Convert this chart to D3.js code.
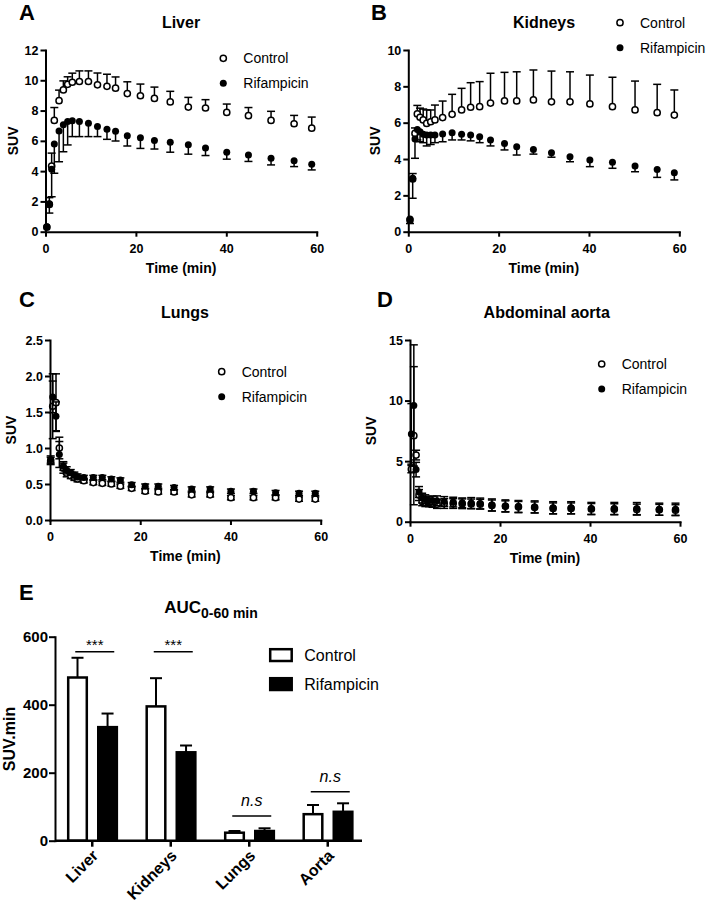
<!DOCTYPE html>
<html><head><meta charset="utf-8">
<script src="https://cdn.jsdelivr.net/npm/d3@7"></script>
<style>
body{margin:0;background:#fff}
svg{display:block}
text{font-family:"Liberation Sans",Arial,Helvetica,sans-serif;fill:#000}
</style>
</head><body>
<svg id="chart" width="709" height="902"></svg>
<script>
// ---------------- DATA ----------------
const seriesNames = ["Control", "Rifampicin"];
const timeTicks = [0, 20, 40, 60];

const liverTimes = [0.3, 0.85, 1.36, 1.95, 3.0, 3.95, 4.9, 5.93, 7.5, 9.5, 11.5, 13.6, 15.5, 18.1, 21.0, 24.1, 27.6, 31.6, 35.4, 40.1, 44.9, 49.9, 55.0, 58.9];
const liverControl = [0.3, 1.8, 4.34, 7.35, 8.65, 9.36, 9.73, 9.87, 9.92, 9.92, 9.7, 9.6, 9.48, 9.12, 8.98, 8.8, 8.57, 8.23, 8.17, 7.88, 7.66, 7.35, 7.13, 6.84];
const liverControlSD = [0, 0.45, 0.85, 0.85, 0.7, 0.6, 0.5, 0.6, 0.7, 0.7, 0.78, 0.8, 0.74, 0.78, 0.77, 0.75, 0.7, 0.64, 0.55, 0.55, 0.54, 0.6, 0.55, 0.73];
const liverRif = [0.33, 1.85, 4.12, 5.8, 6.65, 7.07, 7.28, 7.32, 7.28, 7.16, 6.95, 6.77, 6.64, 6.34, 6.2, 6.03, 5.9, 5.74, 5.52, 5.25, 5.07, 4.85, 4.68, 4.45];
const liverRifSD = [0, 0.62, 1.81, 1.94, 2.03, 1.79, 1.55, 1.04, 1.0, 0.88, 0.67, 0.67, 0.65, 0.68, 0.7, 0.57, 0.65, 0.62, 0.49, 0.46, 0.43, 0.44, 0.38, 0.37];

const kidneyTimes = [0.37, 0.97, 1.48, 2.0, 2.6, 3.3, 4.07, 4.96, 5.9, 7.6, 9.7, 11.8, 13.8, 15.8, 18.2, 21.3, 24.0, 27.7, 31.7, 35.8, 40.2, 45.2, 50.2, 55.1, 58.9];
const kidneyControl = [0.65, 2.9, 5.41, 6.48, 6.3, 6.15, 5.96, 6.05, 6.15, 6.28, 6.46, 6.7, 6.85, 6.88, 7.08, 7.2, 7.2, 7.25, 7.15, 7.15, 7.03, 6.88, 6.7, 6.55, 6.42];
const kidneyControlSD = [0, 0.3, 0.3, 0.47, 0.5, 0.6, 0.74, 0.65, 0.82, 0.91, 1.1, 1.19, 1.35, 1.38, 1.64, 1.57, 1.6, 1.65, 1.69, 1.65, 1.59, 1.62, 1.59, 1.56, 1.38];
const kidneyRif = [0.7, 2.94, 5.1, 5.63, 5.5, 5.36, 5.32, 5.32, 5.32, 5.38, 5.45, 5.36, 5.32, 5.23, 5.05, 4.86, 4.68, 4.53, 4.35, 4.13, 3.95, 3.82, 3.62, 3.43, 3.25];
const kidneyRifSD = [0.25, 1.1, 1.06, 0.58, 0.55, 0.46, 0.6, 0.52, 0.42, 0.43, 0.4, 0.31, 0.32, 0.33, 0.33, 0.36, 0.46, 0.26, 0.25, 0.28, 0.37, 0.33, 0.32, 0.44, 0.4];

const lungTimes = [0.15, 0.6, 1.33, 2.07, 2.96, 3.7, 4.6, 5.4, 6.1, 7.5, 9.6, 11.6, 13.6, 15.6, 18.1, 21.1, 24.0, 27.5, 31.4, 35.5, 40.1, 45.1, 50.0, 55.2, 58.8];
const lungControl = [0.82, 1.58, 1.63, 1.0, 0.72, 0.65, 0.615, 0.59, 0.57, 0.545, 0.52, 0.51, 0.5, 0.47, 0.44, 0.40, 0.39, 0.39, 0.35, 0.35, 0.31, 0.31, 0.31, 0.29, 0.29];
const lungControlSD = [0.05, 0.45, 0.4, 0.15, 0.07, 0.05, 0.04, 0.04, 0.04, 0.03, 0.03, 0.03, 0.03, 0.03, 0.03, 0.03, 0.03, 0.03, 0.03, 0.03, 0.03, 0.03, 0.03, 0.03, 0.03];
const lungRif = [0.84, 1.71, 1.44, 0.91, 0.75, 0.69, 0.66, 0.625, 0.6, 0.59, 0.59, 0.59, 0.57, 0.555, 0.49, 0.47, 0.47, 0.45, 0.43, 0.43, 0.40, 0.40, 0.38, 0.37, 0.37];
const lungRifSD = [0.05, 0.22, 0.2, 0.18, 0.06, 0.05, 0.04, 0.04, 0.04, 0.03, 0.03, 0.03, 0.03, 0.03, 0.03, 0.03, 0.03, 0.03, 0.03, 0.03, 0.03, 0.03, 0.03, 0.03, 0.03];

const aortaTimes = [0.3, 0.85, 1.35, 2.0, 2.7, 3.4, 4.2, 5.0, 6.0, 7.6, 9.6, 11.6, 13.6, 15.6, 18.2, 21.2, 24.1, 27.7, 31.8, 35.8, 40.3, 45.4, 50.4, 55.4, 59.0];
const aortaControl = [4.34, 7.1, 5.5, 2.2, 1.67, 1.6, 1.59, 1.54, 1.45, 1.5, 1.5, 1.48, 1.47, 1.45, 1.34, 1.27, 1.22, 1.18, 1.1, 1.1, 1.05, 1.03, 1.0, 0.98, 0.95];
const aortaControlSD = [0.3, 5.7, 0.4, 0.45, 0.35, 0.35, 0.35, 0.35, 0.35, 0.4, 0.4, 0.4, 0.4, 0.4, 0.45, 0.45, 0.45, 0.45, 0.45, 0.45, 0.45, 0.45, 0.45, 0.45, 0.45];
const aortaRif = [7.25, 9.6, 4.3, 2.45, 1.95, 1.87, 1.76, 1.76, 1.73, 1.67, 1.62, 1.56, 1.54, 1.5, 1.38, 1.3, 1.25, 1.22, 1.15, 1.15, 1.09, 1.09, 1.08, 1.03, 1.03];
const aortaRifSD = [2.5, 5.0, 0.6, 0.45, 0.4, 0.35, 0.35, 0.35, 0.4, 0.4, 0.4, 0.4, 0.45, 0.45, 0.5, 0.5, 0.5, 0.5, 0.5, 0.5, 0.5, 0.5, 0.5, 0.5, 0.5];

const aucCategories = ["Liver", "Kidneys", "Lungs", "Aorta"];
const aucControl = [480, 395, 23.5, 78];
const aucControlSD = [58, 83, 5, 27];
const aucRif = [334, 260, 28.5, 85];
const aucRifSD = [40, 20, 8, 25];
const aucTicks = [0, 200, 400, 600];
const sigLabels = ["***", "***", "n.s", "n.s"];
const sigLevels = [556, 556, 73, 144];

// ---------------- DRAWING ----------------
const svg = d3.select("#chart");
const FONT = '"Liberation Sans",Arial,Helvetica,sans-serif';

function styleAxis(g, fs) {
  g.selectAll("path.domain").attr("stroke", "#000").attr("stroke-width", 2).attr("stroke-linecap", "square");
  g.selectAll(".tick line").attr("stroke", "#000").attr("stroke-width", 2);
  g.selectAll(".tick text").attr("font-family", FONT).attr("font-weight", "bold").attr("font-size", fs).attr("fill", "#000");
}

function timePanel(cfg) {
  const g = svg.append("g");
  const x = d3.scaleLinear().domain([0, 60]).range([cfg.x0, cfg.x1]);
  const y = d3.scaleLinear().domain([0, cfg.ymax]).range([cfg.y0, cfg.y1]);

  // series
  cfg.series.forEach((s, si) => {
    const pts = cfg.times.map((t, i) => ({t: t, v: s.values[i], sd: s.sd[i]}));
    const eg = g.append("g");
    pts.forEach(p => {
      if (!p.sd) return;
      const lo = s.dir === "up" ? p.v : p.v - p.sd;
      const hi = s.dir === "down" ? p.v : p.v + p.sd;
      const cx = x(p.t);
      eg.append("line").attr("x1", cx).attr("x2", cx).attr("y1", y(lo)).attr("y2", y(hi))
        .attr("stroke", "#000").attr("stroke-width", 1.5);
      if (s.dir !== "down") eg.append("line").attr("x1", cx - 4).attr("x2", cx + 4).attr("y1", y(hi)).attr("y2", y(hi)).attr("stroke", "#000").attr("stroke-width", 1.5);
      if (s.dir !== "up") eg.append("line").attr("x1", cx - 4).attr("x2", cx + 4).attr("y1", y(lo)).attr("y2", y(lo)).attr("stroke", "#000").attr("stroke-width", 1.5);
    });
    g.append("g").selectAll("circle").data(pts).join("circle")
      .attr("cx", d => x(d.t)).attr("cy", d => y(d.v))
      .attr("r", si === 0 ? 3.1 : 3.5)
      .attr("fill", si === 0 ? "#fff" : "#000")
      .attr("stroke", "#000").attr("stroke-width", si === 0 ? 1.5 : 0);
  });

  // axes
  const ax = g.append("g").attr("transform", `translate(0,${cfg.y0})`)
    .call(d3.axisBottom(x).tickValues(timeTicks).tickSize(5).tickPadding(7).tickSizeOuter(0));
  styleAxis(ax, 12.5);
  const ay = g.append("g").attr("transform", `translate(${cfg.x0},0)`)
    .call(d3.axisLeft(y).tickValues(cfg.yTicks).tickFormat(cfg.fmt).tickSize(5).tickPadding(2).tickSizeOuter(0));
  styleAxis(ay, 12.5);

  // labels
  g.append("text").attr("x", (cfg.x0 + cfg.x1) / 2).attr("y", cfg.y0 + 41)
    .attr("text-anchor", "middle").attr("font-weight", "bold").attr("font-size", 14).text("Time (min)");
  g.append("text").attr("transform", `translate(${cfg.ylabX},${(cfg.y0 + cfg.y1) / 2}) rotate(-90)`)
    .attr("text-anchor", "middle").attr("dy", "0.35em").attr("font-weight", "bold").attr("font-size", 14).text("SUV");
  g.append("text").attr("x", cfg.titleX).attr("y", cfg.titleY)
    .attr("text-anchor", "middle").attr("font-weight", "bold").attr("font-size", 16).text(cfg.title);
  g.append("text").attr("x", cfg.letterX).attr("y", cfg.letterY)
    .attr("font-weight", "bold").attr("font-size", 22).text(cfg.letter);

  // legend
  seriesNames.forEach((n, i) => {
    const ly = cfg.legY + i * 25;
    g.append("circle").attr("cx", cfg.legX).attr("cy", ly).attr("r", i === 0 ? 3.1 : 3.5)
      .attr("fill", i === 0 ? "#fff" : "#000").attr("stroke", "#000").attr("stroke-width", i === 0 ? 1.5 : 0);
    g.append("text").attr("x", cfg.legX + 20).attr("y", ly + 5).attr("font-size", 14).text(n);
  });
}

timePanel({
  letter: "A", letterX: 19, letterY: 20, title: "Liver", titleX: 181, titleY: 28,
  x0: 45.5, x1: 316.7, y0: 231.7, y1: 50, ymax: 12, yTicks: [0, 2, 4, 6, 8, 10, 12], fmt: d3.format("d"),
  ylabX: 13, legX: 223.3, legY: 58.3, times: liverTimes,
  series: [
    {values: liverControl, sd: liverControlSD, dir: "up"},
    {values: liverRif, sd: liverRifSD, dir: "down"}
  ]
});
timePanel({
  letter: "B", letterX: 371, letterY: 20, title: "Kidneys", titleX: 544, titleY: 28,
  x0: 408.3, x1: 679.3, y0: 231.7, y1: 50, ymax: 10, yTicks: [0, 2, 4, 6, 8, 10], fmt: d3.format("d"),
  ylabX: 375, legX: 620, legY: 22.7, times: kidneyTimes,
  series: [
    {values: kidneyControl, sd: kidneyControlSD, dir: "up"},
    {values: kidneyRif, sd: kidneyRifSD, dir: "down"}
  ]
});
timePanel({
  letter: "C", letterX: 19, letterY: 306.7, title: "Lungs", titleX: 185, titleY: 317.5,
  x0: 50, x1: 320.7, y0: 520, y1: 340, ymax: 2.5, yTicks: [0, 0.5, 1, 1.5, 2, 2.5], fmt: d3.format(".1f"),
  ylabX: 11, legX: 221.7, legY: 371.7, times: lungTimes,
  series: [
    {values: lungControl, sd: lungControlSD, dir: "both"},
    {values: lungRif, sd: lungRifSD, dir: "both"}
  ]
});
timePanel({
  letter: "D", letterX: 377, letterY: 306.7, title: "Abdominal aorta", titleX: 546.7, titleY: 317.5,
  x0: 410, x1: 680, y0: 521.7, y1: 340, ymax: 15, yTicks: [0, 5, 10, 15], fmt: d3.format("d"),
  ylabX: 371, legX: 601.7, legY: 364, times: aortaTimes,
  series: [
    {values: aortaControl, sd: aortaControlSD, dir: "both"},
    {values: aortaRif, sd: aortaRifSD, dir: "both"}
  ]
});

// ---------------- PANEL E ----------------
(function () {
  const g = svg.append("g");
  const xb = d3.scaleBand().domain(aucCategories).range([53, 367]);
  const yb = d3.scaleLinear().domain([0, 600]).range([840.7, 636.7]);
  const half = xb.bandwidth() / 2;
  const barW = 18.6;
  const rows = aucCategories.map((c, i) => ({
    c: c, cx: xb(c) + half,
    ctl: aucControl[i], ctlSD: aucControlSD[i], rif: aucRif[i], rifSD: aucRifSD[i],
    sig: sigLabels[i], lvl: sigLevels[i]
  }));
  function bar(cx, v, sd, fill) {
    const top = yb(v), hi = yb(v + sd);
    g.append("line").attr("x1", cx).attr("x2", cx).attr("y1", top).attr("y2", hi).attr("stroke", "#000").attr("stroke-width", 2);
    g.append("line").attr("x1", cx - 6).attr("x2", cx + 6).attr("y1", hi).attr("y2", hi).attr("stroke", "#000").attr("stroke-width", 2);
    g.append("rect").attr("x", cx - barW / 2).attr("y", top).attr("width", barW).attr("height", yb(0) - top)
      .attr("fill", fill).attr("stroke", "#000").attr("stroke-width", 2.5);
  }
  rows.forEach(r => {
    bar(r.cx - 14.75, r.ctl, r.ctlSD, "#fff");
    bar(r.cx + 15.3, r.rif, r.rifSD, "#000");
    const ly = yb(r.lvl);
    g.append("line").attr("x1", r.cx - 17).attr("x2", r.cx + 22).attr("y1", ly).attr("y2", ly).attr("stroke", "#000").attr("stroke-width", 1.5);
    const t = g.append("text").attr("x", r.cx + 2.5).attr("text-anchor", "middle").text(r.sig);
    if (r.sig === "***") t.attr("y", ly - 2).attr("font-size", 15);
    else t.attr("y", ly - 10).attr("font-size", 16).attr("font-style", "italic");
  });

  // axes
  const ay = g.append("g").attr("transform", "translate(55,0)")
    .call(d3.axisLeft(yb).tickValues(aucTicks).tickSize(6).tickPadding(1).tickSizeOuter(0));
  styleAxis(ay, 15);
  g.append("line").attr("x1", 55).attr("x2", 362).attr("y1", yb(0)).attr("y2", yb(0))
    .attr("stroke", "#000").attr("stroke-width", 2.5);
  rows.forEach(r => {
    g.append("line").attr("x1", r.cx).attr("x2", r.cx).attr("y1", yb(0)).attr("y2", yb(0) + 6)
      .attr("stroke", "#000").attr("stroke-width", 2.5);
    g.append("text").attr("transform", `translate(${r.cx + 3},${yb(0) + 12}) rotate(-45)`)
      .attr("text-anchor", "end").attr("dy", "0.35em").attr("font-weight", "bold").attr("font-size", 16).text(r.c);
  });

  g.append("text").attr("transform", `translate(9,739) rotate(-90)`).attr("text-anchor", "middle").attr("dy", "0.35em")
    .attr("font-weight", "bold").attr("font-size", 16).text("SUV.min");
  const title = g.append("text").attr("x", 211).attr("y", 612.5).attr("text-anchor", "middle").attr("font-weight", "bold");
  title.append("tspan").attr("font-size", 17).text("AUC");
  title.append("tspan").attr("font-size", 14).attr("dy", 5.5).text("0-60 min");
  g.append("text").attr("x", 19).attr("y", 600).attr("font-weight", "bold").attr("font-size", 22).text("E");

  // legend
  seriesNames.forEach((n, i) => {
    const ly = 648 + i * 29;
    g.append("rect").attr("x", 270.2).attr("y", ly + 1.2).attr("width", 21.5).attr("height", 11.8)
      .attr("fill", i === 0 ? "#fff" : "#000").attr("stroke", "#000").attr("stroke-width", 2.5);
    g.append("text").attr("x", 304.3).attr("y", ly + 13).attr("font-size", 16).text(n);
  });
})();
</script>
</body></html>
